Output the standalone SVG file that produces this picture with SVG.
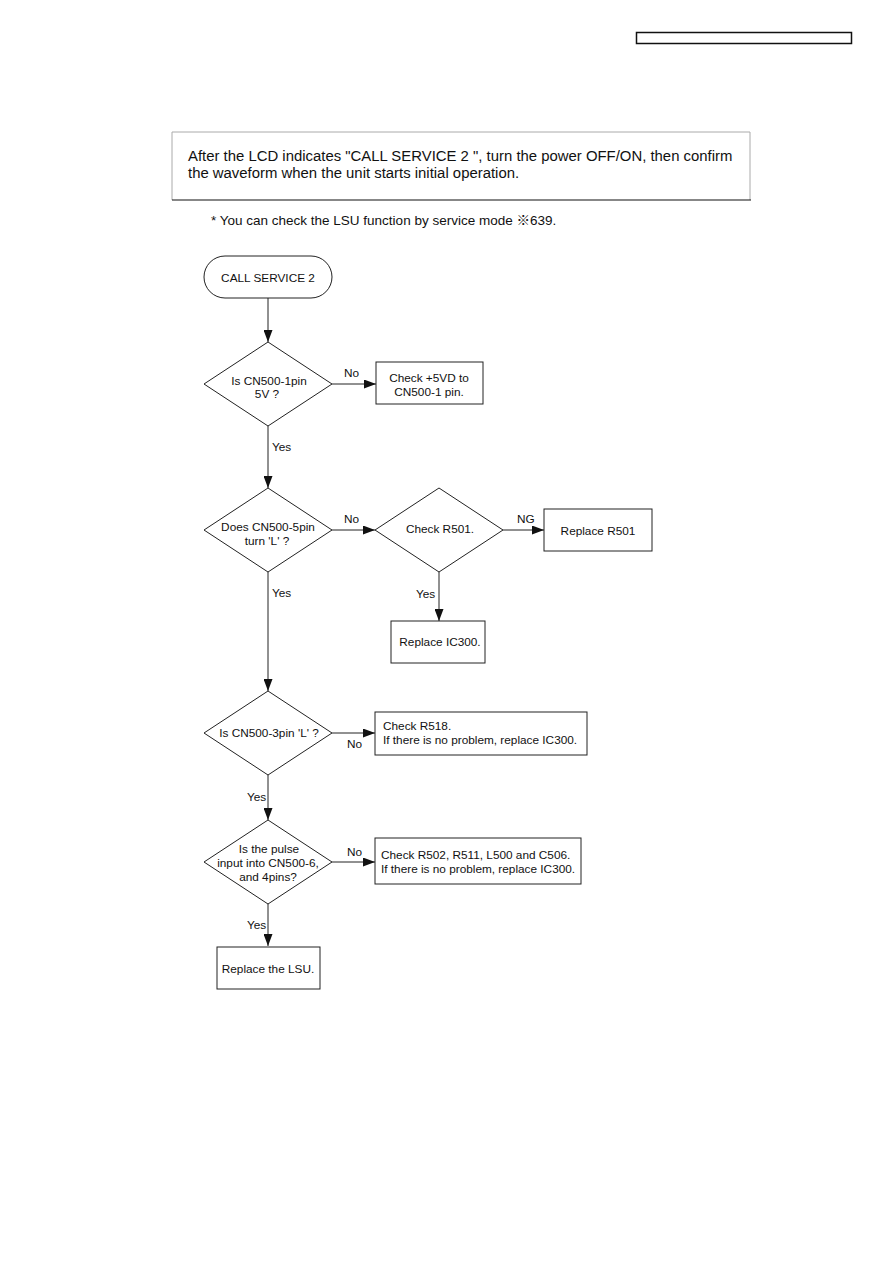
<svg xmlns="http://www.w3.org/2000/svg" width="893" height="1263" viewBox="0 0 893 1263">
<defs>
<style>
.t{font-family:"Liberation Sans",Arial,"Noto Sans CJK JP",sans-serif;font-size:11.8px;fill:#111}
.m{text-anchor:middle}
.s{fill:#fff;stroke:#222;stroke-width:1}
.c{fill:none;stroke:#222;stroke-width:1}
.h{font-family:"Liberation Sans",Arial,"Noto Sans CJK JP",sans-serif;font-size:14.9px;fill:#111}
</style>
<marker id="a" viewBox="0 0 12 9" refX="12" refY="4.5" markerWidth="12" markerHeight="9" markerUnits="userSpaceOnUse" orient="auto">
<path d="M0,0 L12,4.5 L0,9 Z" fill="#111"/>
</marker>
</defs>
<rect width="893" height="1263" fill="#fff"/>
<g id="header">
<rect x="636.5" y="32.5" width="215" height="11" fill="none" stroke="#111" stroke-width="1.5"/>
</g>
<g id="note">
<path d="M750,132 H172 V200" fill="none" stroke="#aaa" stroke-width="1"/>
<path d="M750,132 V200" fill="none" stroke="#aaa" stroke-width="1"/>
<line x1="172" y1="200" x2="751" y2="200" stroke="#111" stroke-width="1.2"/>
<text class="h" x="188" y="161">After the LCD indicates "CALL SERVICE 2 ", turn the power OFF/ON, then confirm</text>
<text class="h" x="188" y="178">the waveform when the unit starts initial operation.</text>
<text class="h" x="211" y="225" style="font-size:13.5px">* You can check the LSU function by service mode ※639.</text>
</g>
<g id="connectors">
<line class="c" x1="268" y1="298" x2="268" y2="342" marker-end="url(#a)"/>
<line class="c" x1="332" y1="384" x2="376" y2="384" marker-end="url(#a)"/>
<line class="c" x1="268" y1="426" x2="268" y2="488" marker-end="url(#a)"/>
<line class="c" x1="332" y1="530" x2="375" y2="530" marker-end="url(#a)"/>
<line class="c" x1="503" y1="530" x2="544" y2="530" marker-end="url(#a)"/>
<line class="c" x1="439" y1="572" x2="439" y2="621" marker-end="url(#a)"/>
<line class="c" x1="268" y1="572" x2="268" y2="691" marker-end="url(#a)"/>
<line class="c" x1="332" y1="733" x2="375" y2="733" marker-end="url(#a)"/>
<line class="c" x1="268" y1="775" x2="268" y2="820" marker-end="url(#a)"/>
<line class="c" x1="332" y1="862" x2="375" y2="862" marker-end="url(#a)"/>
<line class="c" x1="268" y1="904" x2="268" y2="946" marker-end="url(#a)"/>
<text class="t" x="344" y="377">No</text>
<text class="t" x="272" y="451">Yes</text>
<text class="t" x="344" y="523">No</text>
<text class="t" x="517" y="523">NG</text>
<text class="t" x="272" y="597">Yes</text>
<text class="t" x="416" y="598">Yes</text>
<text class="t" x="347" y="748">No</text>
<text class="t" x="247" y="801">Yes</text>
<text class="t" x="347" y="856">No</text>
<text class="t" x="247" y="929">Yes</text>
</g>
<g id="start">
<rect class="s" x="204" y="256" width="128" height="42" rx="21" ry="21"/>
<text class="t m" x="268" y="282">CALL SERVICE 2</text>
</g>
<g id="d1">
<polygon class="s" points="268,342 332,384 268,426 204,384"/>
<text class="t m" x="269" y="385">Is CN500-1pin</text>
<text class="t m" x="267" y="398">5V ?</text>
</g>
<g id="b1">
<rect class="s" x="376" y="362" width="107" height="42"/>
<text class="t m" x="429" y="382">Check +5VD to</text>
<text class="t m" x="429" y="396">CN500-1 pin.</text>
</g>
<g id="d2">
<polygon class="s" points="268,488 332,530 268,572 204,530"/>
<text class="t m" x="268" y="531">Does CN500-5pin</text>
<text class="t m" x="267" y="545">turn 'L' ?</text>
</g>
<g id="d3">
<polygon class="s" points="439,488 503,530 439,572 375,530"/>
<text class="t m" x="440" y="533">Check R501.</text>
</g>
<g id="b2">
<rect class="s" x="544" y="509" width="108" height="42"/>
<text class="t m" x="598" y="535">Replace R501</text>
</g>
<g id="b3">
<rect class="s" x="391" y="621" width="94" height="42"/>
<text class="t m" x="440" y="646">Replace IC300.</text>
</g>
<g id="d4">
<polygon class="s" points="268,691 332,733 268,775 204,733"/>
<text class="t m" x="269" y="737">Is CN500-3pin 'L' ?</text>
</g>
<g id="b4">
<rect class="s" x="375" y="712" width="212" height="43"/>
<text class="t" x="383" y="730">Check R518.</text>
<text class="t" x="383" y="744">If there is no problem, replace IC300.</text>
</g>
<g id="d5">
<polygon class="s" points="268,820 332,862 268,904 204,862"/>
<text class="t m" x="269" y="853">Is the pulse</text>
<text class="t m" x="268" y="867">input into CN500-6,</text>
<text class="t m" x="268" y="881">and 4pins?</text>
</g>
<g id="b5">
<rect class="s" x="375" y="838" width="206" height="46"/>
<text class="t" x="381" y="859">Check R502, R511, L500 and C506.</text>
<text class="t" x="381" y="873">If there is no problem, replace IC300.</text>
</g>
<g id="b6">
<rect class="s" x="217" y="947" width="103" height="42"/>
<text class="t m" x="268" y="973">Replace the LSU.</text>
</g>
</svg>
